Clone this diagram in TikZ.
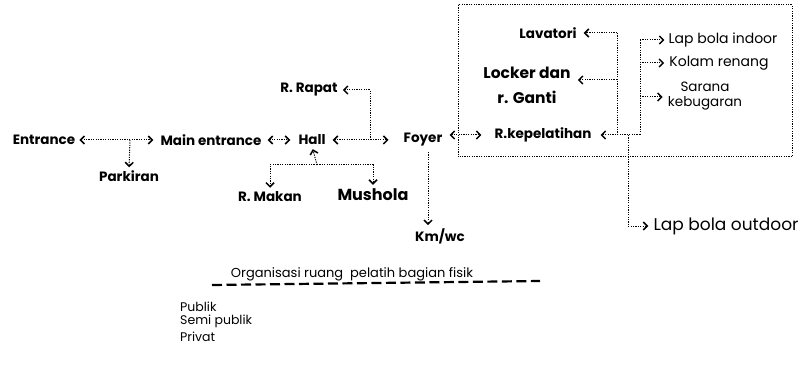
\documentclass[tikz,border=0pt]{standalone}
\usepackage{fontspec}
\setmainfont{Poppins}
\usetikzlibrary{arrows.meta,calc}
\tikzset{
  lbl/.style={font=\bfseries\fontsize{13.5}{15}\selectfont, inner sep=1pt},
  reglbl/.style={font=\fontsize{14}{15}\selectfont, inner sep=1pt},
  smalllbl/.style={font=\fontsize{12.5}{14}\selectfont, inner sep=1pt, anchor=west},
  con/.style={line width=1pt, dash pattern=on 1.2pt off 1.2pt,
    >={Straight Barb[length=4pt,width=8pt,line width=1.5pt]}},
}
\begin{document}
\begin{tikzpicture}[x=1pt,y=-1pt]
\useasboundingbox (0,0) rectangle (800,366);

% main chain of spaces
\node[lbl] (entrance) at (44,140) {Entrance};
\node[lbl] (mainent) at (211,140) {Main entrance};
\node[lbl] (hall) at (312,140) {Hall};
\node[lbl] (foyer) at (423,140) {Foyer};
\node[lbl] (kepel) at (543,135) {R.kepelatihan};

% secondary spaces
\node[lbl] (parkiran) at (129,176) {Parkiran};
\node[lbl] (rapat) at (309,90) {R. Rapat};
\node[lbl] (makan) at (270,197) {R. Makan};
\node[lbl, font=\bfseries\fontsize{16}{18}\selectfont] (mushola) at (373,195) {Mushola};
\node[lbl] (kmwc) at (440,236) {Km/wc};

% training block
\node[lbl] (lavatori) at (548,33) {Lavatori};
\node[lbl, align=center, font=\bfseries\fontsize{15.5}{25}\selectfont] (locker) at (527,85) {Locker dan\\r. Ganti};
\node[reglbl] (lapin) at (723,40) {Lap bola indoor};
\node[reglbl] (kolam) at (719,63) {Kolam renang};
\node[reglbl, align=center, font=\fontsize{13.5}{15}\selectfont] (sarana) at (705,96) {Sarana\\kebugaran};
\node[reglbl, font=\fontsize{17}{19}\selectfont] (outdoor) at (726,226) {Lap bola outdoor};

% junction points
\coordinate (pk) at (130,140);
\coordinate (rp) at (370,140);
\coordinate (hb) at (317,165);
\coordinate (fd) at (428,152);
\coordinate (sA) at (617,33);
\coordinate (sB) at (617,80);
\coordinate (sC) at (617,135);
\coordinate (rA) at (640,40);
\coordinate (rB) at (640,63);
\coordinate (rD) at (640,97);
\coordinate (rC) at (640,135);
\coordinate (oC) at (628,135);

% connectors
\draw[con,<->,shorten <=3pt,shorten >=6pt] (entrance.east) -- (mainent.west);
\draw[con,->,shorten >=2pt] (pk) -- (parkiran.north);
\draw[con,<->,shorten <=5pt,shorten >=7pt] (mainent.east) -- (hall.west);
\draw[con,<->,shorten <=6pt,shorten >=14pt] (hall.east) -- (foyer.west);
\draw[con,->,shorten >=4pt] (rp) |- (rapat.east);
\draw[con,->,shorten >=3pt] (hb) -- (hall.south);
\draw[con,->,shorten >=3pt] (hb) -| (makan.north);
\draw[con,->,shorten >=3pt] (hb) -| (mushola.north);
\draw[con,->,shorten >=2pt] (fd) -- (fd |- kmwc.north);
\draw[con,<->,shorten <=6pt,shorten >=12pt] (foyer.east |- kepel) -- (kepel.west);

% training block frame and links
\draw[con] (458,5) rectangle (792,157);
\draw[con,->,shorten >=6pt] (sA) -- (lavatori.east);
\draw[con,->,shorten >=6pt] (sB) -- (sB -| locker.east);
\draw[con] (sA) -- (sC);
\draw[con] (rA) -- (rC);
\draw[con,->,shorten >=8pt] (rC) -- (kepel.east);
\draw[con,->,shorten >=3pt] (rA) -- (lapin.west);
\draw[con,->,shorten >=4pt] (rB) -- (kolam.west);
\draw[con,->,shorten >=4pt] (rD) -- (rD -| sarana.west);
\draw[con,->,shorten >=4pt] (oC) |- (outdoor.west);

% legend
\node[font=\fontsize{13}{15}\selectfont, inner sep=1pt] (title) at (352,274) {Organisasi ruang\ \ pelatih bagian fisik};
\draw[line width=2.2pt, dash pattern=on 10pt off 4.5pt] (212,285) -- (540,281);
\node[smalllbl] (publik) at (179,307) {Publik};
\node[smalllbl] (semi) at (179,321) {Semi publik};
\node[smalllbl] (privat) at (179,337) {Privat};
\end{tikzpicture}
\end{document}
